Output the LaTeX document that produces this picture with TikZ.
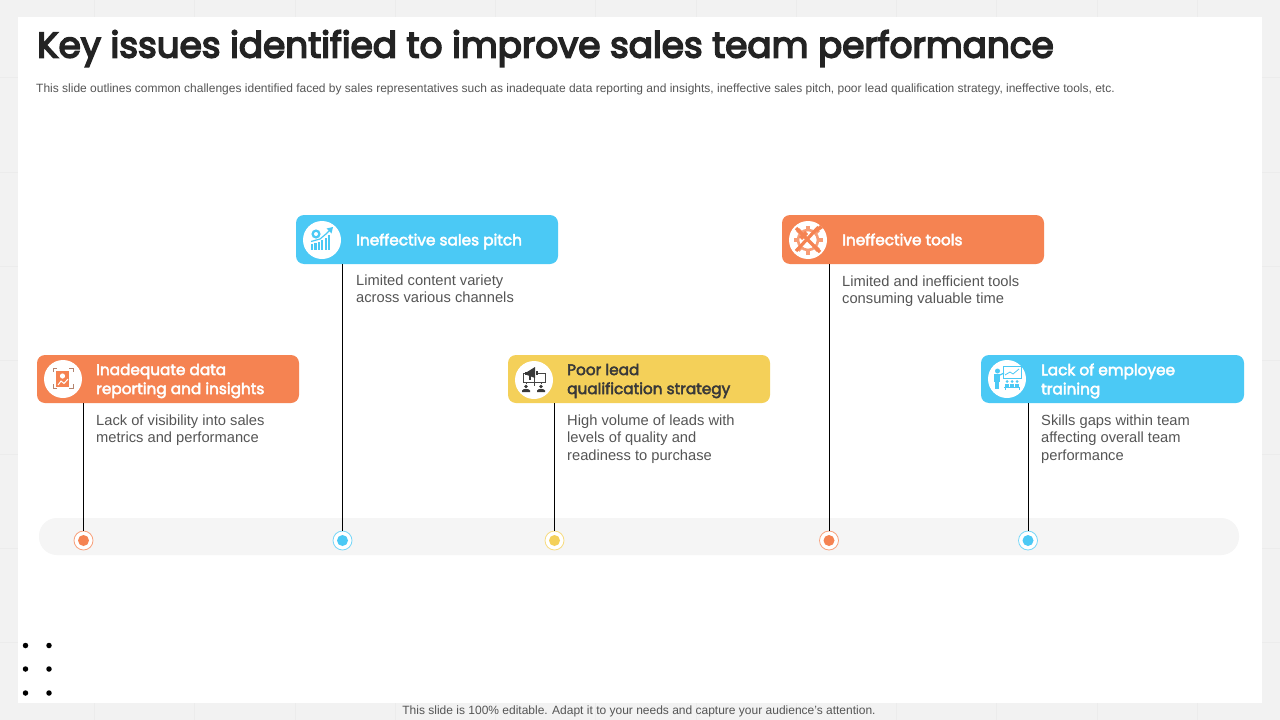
\documentclass[tikz,border=0pt]{standalone}
\usepackage{fontspec}
\setmainfont{Liberation Sans}
\newfontfamily\headfont[FakeBold=3]{Poppins}
\newfontfamily\titlefont[FakeBold=4.5]{Poppins}
\definecolor{pageg}{HTML}{F2F2F2}
\definecolor{gridg}{HTML}{ECECEC}
\definecolor{org}{HTML}{F58352}
\definecolor{blu}{HTML}{4BC9F5}
\definecolor{yel}{HTML}{F4D059}
\definecolor{ink}{HTML}{232323}
\definecolor{bodyg}{HTML}{555555}
\definecolor{trk}{HTML}{F5F5F5}
\tikzset{
 x=1pt,y=-1pt,
 card/.style={draw=none,rounded corners=8pt,minimum width=262pt,inner sep=0pt,outer sep=0pt,anchor=north west},
 badge/.style={circle,fill=white,draw=none,minimum size=38pt,inner sep=0pt},
 cardhead/.style={anchor=west,align=left,inner sep=0pt,font=\headfont\fontsize{15.3}{19}\selectfont,text=white},
 cardbody/.style={anchor=north west,align=left,inner sep=0pt,text=bodyg,font=\fontsize{14.7}{17.6}\selectfont},
 ring/.style={circle,minimum size=19pt,inner sep=0pt,fill=white,line width=0.8pt},
 core/.style={circle,minimum size=11pt,inner sep=0pt,draw=none},
 stem/.style={draw=black,line width=0.9pt},
 bullet/.style={circle,fill=black,minimum size=5.5pt,inner sep=0pt,draw=none},
}
\begin{document}
\begin{tikzpicture}
\useasboundingbox (0,0) rectangle (1280,720);
\fill[pageg] (0,0) rectangle (1280,720);
\foreach \gx in {94,194,295,395,495,595,696,796,896,996,1097,1197}
  \draw[gridg,line width=1pt] (\gx,0) -- (\gx,720);
\foreach \gy in {77,172,266,360,454,548,642}
  \draw[gridg,line width=1pt] (0,\gy) -- (1280,\gy);
\fill[white] (18,17) rectangle (1262,703);

\node[anchor=west,inner sep=0pt,text=ink,font=\titlefont\fontsize{35.8}{40}\selectfont] (title) at (37,48.5) {Key issues identified to improve sales team performance};
\node[anchor=west,inner sep=0pt,text=bodyg,font=\fontsize{12}{14}\selectfont] (subtitle) at (36,89.5) {This slide outlines common challenges identified faced by sales representatives such as inadequate data reporting and insights, ineffective sales pitch, poor lead qualification strategy, ineffective tools, etc.};

\fill[trk] (39,518) [rounded corners=18pt] rectangle (1239,555);

% cards
\node[card,fill=org,minimum height=48pt] (c1) at (37,355) {};
\node[card,fill=blu,minimum height=49pt] (c2) at (296,215) {};
\node[card,fill=yel,minimum height=48pt] (c3) at (508,355) {};
\node[card,fill=org,minimum height=49pt] (c4) at (782,215) {};
\node[card,fill=blu,minimum height=48pt,minimum width=263pt] (c5) at (981,355) {};

% timeline dots
\node[ring,draw=org!75] (d1) at (83.5,540.5) {};
\node[ring,draw=blu!75] (d2) at (342.5,540.5) {};
\node[ring,draw=yel!75] (d3) at (554.5,540.5) {};
\node[ring,draw=org!75] (d4) at (829,540.5) {};
\node[ring,draw=blu!75] (d5) at (1028,540.5) {};

% connectors
\draw[stem] (d1.north) -- (d1.north |- c1.south);
\draw[stem] (d2.north) -- (d2.north |- c2.south);
\draw[stem] (d3.north) -- (d3.north |- c3.south);
\draw[stem] (d4.north) -- (d4.north |- c4.south);
\draw[stem] (d5.north) -- (d5.north |- c5.south);

\node[core,fill=org] (e1) at (d1) {};
\node[core,fill=blu] (e2) at (d2) {};
\node[core,fill=yel] (e3) at (d3) {};
\node[core,fill=org] (e4) at (d4) {};
\node[core,fill=blu] (e5) at (d5) {};

% badges
\node[badge] (b1) at (63,379) {};
\node[badge] (b2) at (322,240) {};
\node[badge] (b3) at (534,380) {};
\node[badge] (b4) at (808,240) {};
\node[badge] (b5) at (1007,379) {};

% headings
\node[cardhead] (h1) at (96,381) {Inadequate data\\reporting and insights};
\node[cardhead] (h2) at (356,241.5) {Ineffective sales pitch};
\node[cardhead,text=ink!90] (h3) at (567,381) {Poor lead\\qualification strategy};
\node[cardhead] (h4) at (842,239.5) {Ineffective tools};
\node[cardhead] (h5) at (1041,381) {Lack of employee\\training};

% body
\node[cardbody] (t1) at (96,414.5) {Lack of visibility into sales\\metrics and performance};
\node[cardbody] (t2) at (356,274.5) {Limited content variety\\across various channels};
\node[cardbody] (t3) at (567,414.5) {High volume of leads with\\levels of quality and\\readiness to purchase};
\node[cardbody] (t4) at (842,275.5) {Limited and inefficient tools\\consuming valuable time};
\node[cardbody] (t5) at (1041,414.5) {Skills gaps within team\\affecting overall team\\performance};

% icon 1: report frame
\begin{scope}[shift={(63,379)}]
 \draw[org!60!black!70,line width=0.6pt] (-10,-7)--(-10,-11)--(-6,-11) (6,-11)--(10,-11)--(10,-7) (10,5)--(10,9)--(6,9) (-6,9)--(-10,9)--(-10,5);
 \fill[org] (-7,-8) rectangle (6,8);
 \fill[white] (-0.5,-3) circle (2.6);
 \draw[white,line width=1pt] (-5,6)--(-2,2)--(1,4.5)--(5,0);
\end{scope}

% icon 2: growth bars
\begin{scope}[shift={(322,240)}]
 \foreach \bx/\by in {-11/4,-7.6/3,-4.2/2,-0.8/0,2.6/-2,6/-5}
   \fill[blu] (\bx,\by) rectangle (\bx+2.2,10);
 \draw[blu,line width=1.2pt] (-11,1.5)--(-2,-1)--(4,-6)--(8,-10);
 \fill[blu] (11,-13)--(4.5,-11.5)--(9.5,-6.5)--cycle;
 \fill[blu] (-6,-6) circle (4.6);
 \fill[white] (-6,-6) circle (2);
\end{scope}

% icon 3: megaphone and people
\begin{scope}[shift={(534,380)}]
 \draw[ink!85,line width=0.6pt] (-11,-7) rectangle (0,2) (0,-7) rectangle (11,2) (0,2)--(0,6) (-7.5,2)--(-7.5,4) (7,2)--(7,4);
 \fill[white] (-8,-13) rectangle (3,-3);
 \fill[ink!90] (-7,-8)--(1,-13)--(1,-2)--(-7,-5)--cycle;
 \fill[ink!90] (-9,-8) rectangle (-6.5,-5);
 \fill[ink!90] (-5.5,-4.5) rectangle (-3.5,-0.5);
 \fill[ink!90] (2,-9.5) rectangle (4,-5);
 \fill[ink!90] (-8,6.5) circle (1.9) (7,6.5) circle (1.9);
 \fill[ink!90] (-12,12)--(-12,10.5)--(-10,9)--(-6,9)--(-4,10.5)--(-4,12)--cycle;
 \fill[ink!90] (3,12)--(3,10.5)--(5,9)--(9,9)--(11,10.5)--(11,12)--cycle;
\end{scope}

% icon 4: gear with crossed tools
\begin{scope}[shift={(808,240)}]
 \foreach \ga in {0,45,...,315}
   \fill[org!80,rotate=\ga] (-2.2,-14.5) rectangle (2.2,-9);
 \draw[org!80,line width=2.6pt] (0,0) circle (10);
 \draw[org,line width=3.2pt] (-12,-12)--(12,12) (10.5,-13)--(-12,11);
 \fill[org] (-9,-3)--(-3,-9)--(0,-6)--(-6,0)--cycle;
 \fill[org] (12,-15)--(15,-12)--(9,-8)--(8,-11)--cycle;
\end{scope}

% icon 5: presenter and audience
\begin{scope}[shift={(1007,379)}]
 \fill[blu] (-9.5,-8) circle (2.5);
 \fill[blu] (-13,-5) rectangle (-7,3);
 \fill[blu] (-12.5,3) rectangle (-8,10);
 \draw[blu,line width=1.2pt] (-7,-4)--(-3,-6);
 \draw[blu,line width=0.7pt] (-4,-13) rectangle (14,-1);
 \draw[blu,line width=0.8pt] (-2,-4)--(3,-7)--(6,-5)--(12,-10);
 \foreach \ax in {0,5,10} {
  \fill[blu] (\ax,2.5) circle (1.5);
  \fill[blu] (\ax-2,4.5) rectangle (\ax+2,7.5);
 }
 \draw[blu,line width=0.8pt] (-3,8.5)--(13,8.5) (-2,8.5)--(-2,11) (12,8.5)--(12,11);
\end{scope}

% page-corner bullets
\node[bullet] (p1) at (25.5,645.5) {};
\node[bullet] (p2) at (49,645.5) {};
\node[bullet] (p3) at (25.5,669) {};
\node[bullet] (p4) at (49,669) {};
\node[bullet] (p5) at (25.5,693) {};
\node[bullet] (p6) at (49,693) {};

\node[inner sep=0pt,text=bodyg,font=\fontsize{12}{14}\selectfont] (foot) at (639,711.5) {This slide is 100\% editable. Adapt it to your needs and capture your audience's attention.};
\end{tikzpicture}
\end{document}
